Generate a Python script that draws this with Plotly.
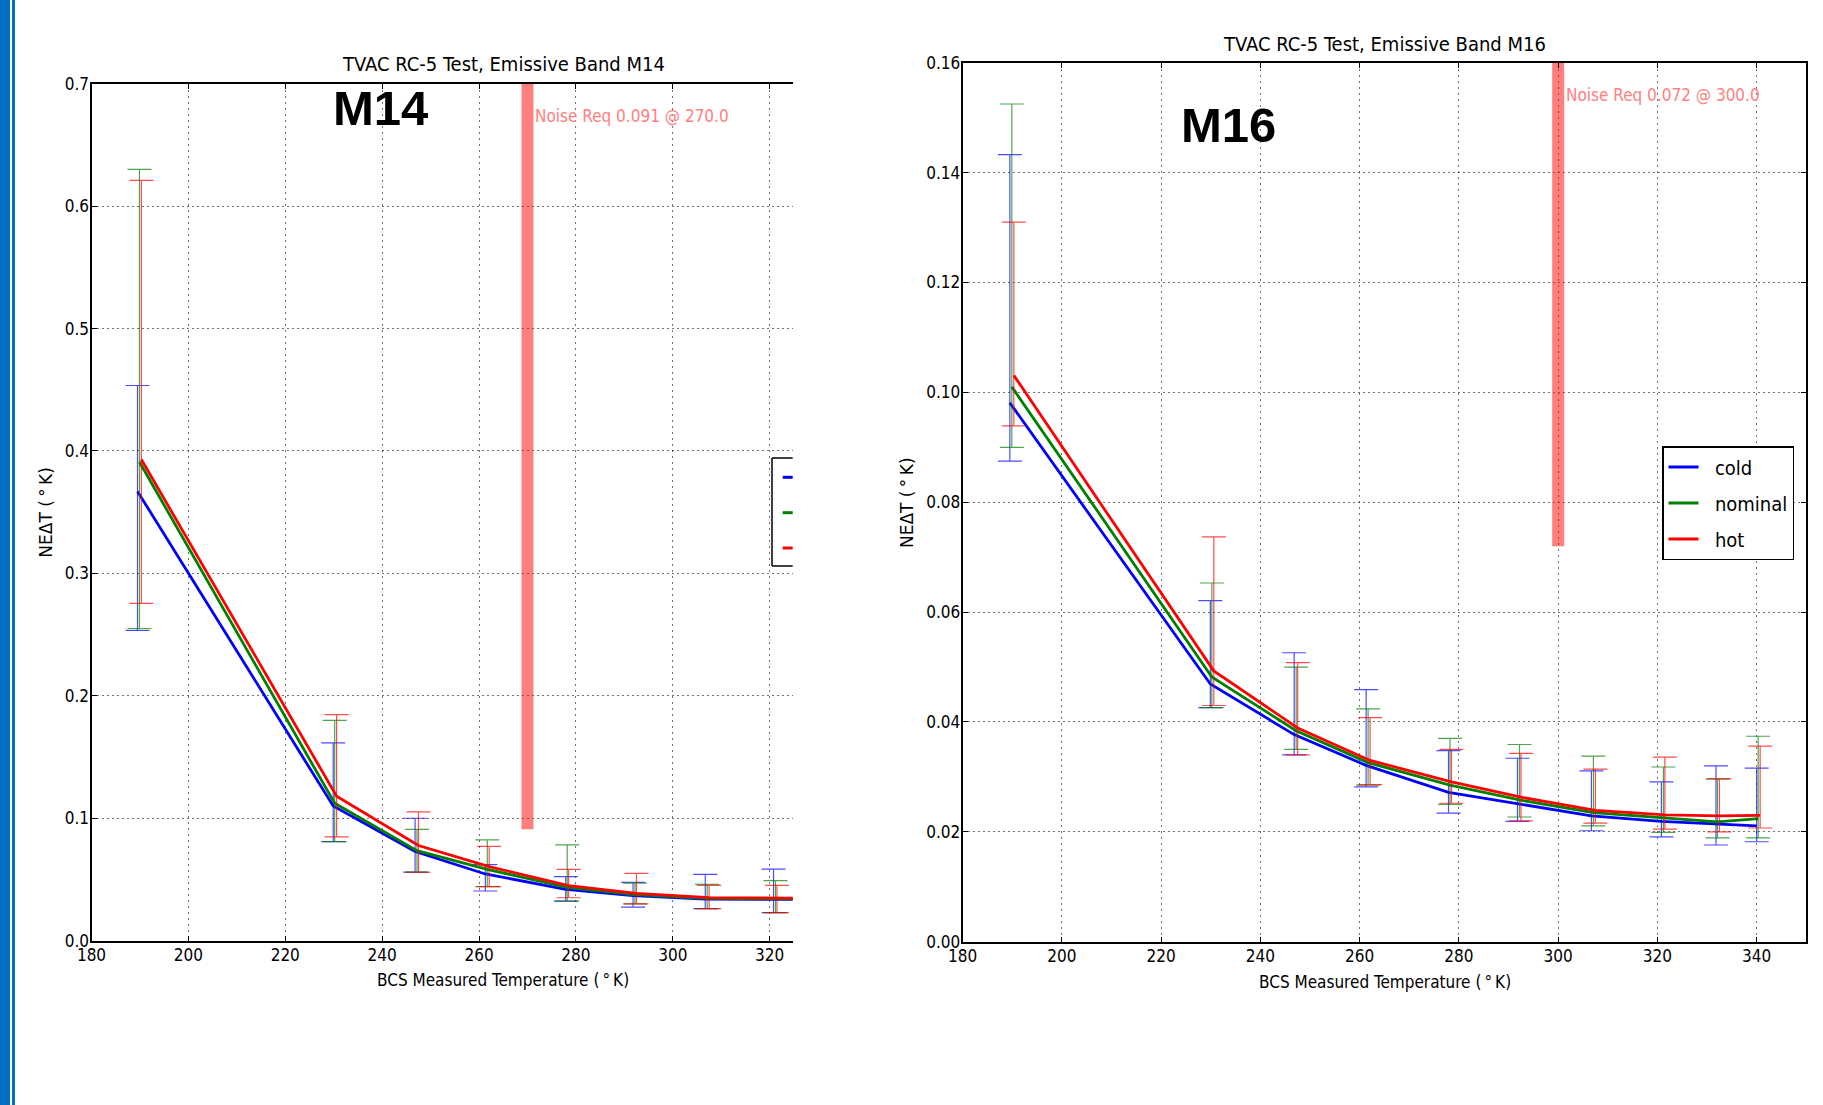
import plotly.graph_objects as go

# ---------------- data ----------------
series_names = ["cold", "nominal", "hot"]

temp_cold    = [189.5, 229.9, 246.8, 261.3, 277.9, 291.8, 306.7, 320.8, 331.8, 340.0]
temp_nominal = [189.9, 230.2, 247.2, 261.7, 278.2, 292.2, 307.1, 321.2, 332.1, 340.3]
temp_hot     = [190.3, 230.6, 247.5, 262.1, 278.5, 292.5, 307.5, 321.5, 332.5, 340.7]

# Band M14 : NEdT and the upper / lower ends of the error bars
m14_cold_val = [0.367, 0.110, 0.0728, 0.0545, 0.0420, 0.0368, 0.0340, 0.0340, 0.0335, 0.0335]
m14_cold_hi  = [0.4535, 0.1616, 0.1000, 0.0621, 0.0523, 0.0477, 0.0542, 0.0585, 0.0480, 0.0480]
m14_cold_lo  = [0.2535, 0.0810, 0.0560, 0.0406, 0.0324, 0.0275, 0.0262, 0.0229, 0.0240, 0.0240]

m14_nom_val  = [0.391, 0.1123, 0.0736, 0.0583, 0.0436, 0.0376, 0.0346, 0.0340, 0.0337, 0.0337]
m14_nom_hi   = [0.630, 0.1800, 0.0910, 0.0823, 0.0782, 0.0470, 0.0460, 0.0490, 0.0470, 0.0470]
m14_nom_lo   = [0.255, 0.0810, 0.0560, 0.0441, 0.0324, 0.0300, 0.0262, 0.0229, 0.0240, 0.0240]

m14_hot_val  = [0.393, 0.1180, 0.0777, 0.0605, 0.0450, 0.0387, 0.0352, 0.0346, 0.0344, 0.0344]
m14_hot_hi   = [0.621, 0.1846, 0.1052, 0.0771, 0.0583, 0.0550, 0.0452, 0.0452, 0.0450, 0.0450]
m14_hot_lo   = [0.2756, 0.0848, 0.0559, 0.0441, 0.0351, 0.0300, 0.0262, 0.0229, 0.0240, 0.0240]

# Band M16
m16_cold_val = [0.0981, 0.0469, 0.0377, 0.0321, 0.0272, 0.0251, 0.0229, 0.0219, 0.0214, 0.0211]
m16_cold_hi  = [0.1433, 0.0621, 0.0526, 0.0459, 0.0348, 0.0334, 0.0311, 0.0291, 0.0320, 0.0316]
m16_cold_lo  = [0.0875, 0.0426, 0.0340, 0.0282, 0.0234, 0.0219, 0.0202, 0.0191, 0.0176, 0.0182]

m16_nom_val  = [0.1010, 0.0482, 0.0384, 0.0326, 0.0285, 0.0258, 0.0235, 0.0226, 0.0218, 0.0224]
m16_nom_hi   = [0.1525, 0.0653, 0.0500, 0.0424, 0.0370, 0.0359, 0.0338, 0.0318, 0.0296, 0.0374]
m16_nom_lo   = [0.0900, 0.0426, 0.0350, 0.0285, 0.0250, 0.0227, 0.0211, 0.0199, 0.0189, 0.0189]

m16_hot_val  = [0.1031, 0.0493, 0.0389, 0.0330, 0.0291, 0.0263, 0.0239, 0.0231, 0.0229, 0.0230]
m16_hot_hi   = [0.1310, 0.0737, 0.0508, 0.0408, 0.0350, 0.0343, 0.0314, 0.0336, 0.0297, 0.0356]
m16_hot_lo   = [0.0939, 0.0430, 0.0340, 0.0286, 0.0252, 0.0220, 0.0216, 0.0205, 0.0200, 0.0207]

# Noise requirements
m14_req, m14_req_temp = 0.091, 270.0
m16_req, m16_req_temp = 0.072, 300.0

x_ticks = [180, 200, 220, 240, 260, 280, 300, 320, 340]
m14_y_ticks = [0.0, 0.1, 0.2, 0.3, 0.4, 0.5, 0.6, 0.7]
m16_y_ticks = [0.00, 0.02, 0.04, 0.06, 0.08, 0.10, 0.12, 0.14, 0.16]

# ---------------- styling / layout constants ----------------
PAGE_W, PAGE_H = 1823, 1105
OFF = 8                      # default body margin of the page holding the figure
W, H = PAGE_W - 2 * OFF, PAGE_H - 2 * OFF
COLORS = ["#0000FF", "#008000", "#FF0000"]
ERR_COLORS = ["rgba(0,0,255,0.7)", "rgba(0,128,0,0.7)", "rgba(255,0,0,0.7)"]
REQ_COLOR = "rgba(255,0,0,0.5)"
REQ_TEXT_COLOR = "#FF8080"
SLIDE_BLUE = "#0070C0"
COND = "DejaVu Sans Condensed, Liberation Sans Narrow, DejaVu Sans, sans-serif"
PLAIN = "DejaVu Sans, sans-serif"
BIGB = "Liberation Sans Narrow, Liberation Sans, Arial, sans-serif"

# plot-area pixel boxes in page pixels (left panel is cropped on its right side)
L1, R1, T1, B1 = 91.5, 792.7, 83.7, 940.7
L2, R2, T2, B2 = 962.7, 1806.3, 62.8, 941.7
X_MIN, X_MAX = 180, 350
X1_CUT = X_MIN + (R1 - L1) / ((915.0 - L1) / (X_MAX - X_MIN))
M14_YMAX, M16_YMAX = 0.7, 0.16


def px(x):
    return (x - OFF) / W


def py(y):
    return 1 - (y - OFF) / H


temps = [temp_cold, temp_nominal, temp_hot]
m14 = [(m14_cold_val, m14_cold_hi, m14_cold_lo),
       (m14_nom_val, m14_nom_hi, m14_nom_lo),
       (m14_hot_val, m14_hot_hi, m14_hot_lo)]
m16 = [(m16_cold_val, m16_cold_hi, m16_cold_lo),
       (m16_nom_val, m16_nom_hi, m16_nom_lo),
       (m16_hot_val, m16_hot_hi, m16_hot_lo)]

fig = go.Figure()

# noise requirement bars
fig.add_trace(go.Scatter(x=[m14_req_temp, m14_req_temp], y=[m14_req, M14_YMAX], mode="lines",
                         line=dict(color=REQ_COLOR, width=12), xaxis="x", yaxis="y",
                         showlegend=False, hoverinfo="skip"))
fig.add_trace(go.Scatter(x=[m16_req_temp, m16_req_temp], y=[m16_req, M16_YMAX], mode="lines",
                         line=dict(color=REQ_COLOR, width=12), xaxis="x2", yaxis="y2",
                         showlegend=False, hoverinfo="skip"))

for band, (xa, ya, show) in zip([m14, m16], [("x", "y", False), ("x2", "y2", True)]):
    for i, (vals, hi, lo) in enumerate(band):
        fig.add_trace(go.Scatter(
            x=temps[i], y=vals, mode="lines", name="\u00a0\u00a0" + series_names[i],
            legendgroup=series_names[i], showlegend=show,
            line=dict(color=COLORS[i], width=2.8),
            error_y=dict(type="data", symmetric=False,
                         array=[h - v for h, v in zip(hi, vals)],
                         arrayminus=[v - l for v, l in zip(vals, lo)],
                         color=ERR_COLORS[i], thickness=1.2, width=12),
            xaxis=xa, yaxis=ya))

axis_common = dict(showline=True, linecolor="black", linewidth=2, ticks="inside", ticklen=5,
                   tickcolor="black", tickwidth=1, showgrid=True, gridcolor="rgba(0,0,0,0.55)",
                   gridwidth=1, zeroline=False, automargin=False,
                   tickfont=dict(family=COND, size=17, color="black"))

fig.update_layout(
    template="none",
    width=W, height=H, margin=dict(l=0, r=0, t=0, b=0, pad=0, autoexpand=False),
    paper_bgcolor="white", plot_bgcolor="white",
    xaxis=dict(axis_common, domain=[px(L1), px(R1)], range=[X_MIN, X1_CUT], anchor="y",
               tickvals=x_ticks, mirror="ticks", griddash="2px,4px", ticklabelstandoff=-2),
    yaxis=dict(axis_common, domain=[py(B1), py(T1)], range=[0, M14_YMAX], anchor="x",
               tickvals=m14_y_ticks, tickformat=".1f", mirror=False, griddash="2px,3px",
               ticklabelstandoff=-3),
    xaxis2=dict(axis_common, domain=[px(L2), px(R2)], range=[X_MIN, X_MAX], anchor="y2",
                tickvals=x_ticks, mirror="ticks", griddash="2px,4px", ticklabelstandoff=-2),
    yaxis2=dict(axis_common, domain=[py(B2), py(T2)], range=[0, M16_YMAX], anchor="x2",
                tickvals=m16_y_ticks, tickformat=".2f", mirror="ticks", griddash="2px,3px",
                ticklabelstandoff=-3),
    legend=dict(x=px(1662), y=py(446), xanchor="left", yanchor="top",
                bordercolor="black", borderwidth=1.5, bgcolor="white",
                font=dict(family=COND, size=20, color="black"),
                traceorder="grouped", tracegroupgap=7),
    showlegend=True,
)

ann = []
# titles
ann.append(dict(text="TVAC RC-5 Test, Emissive Band M14", xref="x", yref="paper",
                x=(X_MIN + X_MAX) / 2, y=py(64.5), showarrow=False, yanchor="middle",
                font=dict(family=COND, size=20, color="black")))
ann.append(dict(text="TVAC RC-5 Test, Emissive Band M16", xref="x2", yref="paper",
                x=(X_MIN + X_MAX) / 2, y=py(43.7), showarrow=False, yanchor="middle",
                font=dict(family=COND, size=20, color="black")))
# axis titles
for xr, ycen in [("x", 980.0), ("x2", 982.4)]:
    ann.append(dict(text="BCS Measured Temperature (\u2009°\u2009K)", xref=xr, yref="paper",
                    x=(X_MIN + X_MAX) / 2, y=py(ycen), showarrow=False, yanchor="middle",
                    font=dict(family=COND, size=17, color="black")))
for xpx, ycen in [(46.5, (T1 + B1) / 2), (906.8, (T2 + B2) / 2)]:
    ann.append(dict(text="NEΔT (\u2009°\u2009K)", xref="paper", yref="paper",
                    x=px(xpx), y=py(ycen), showarrow=False, textangle=-90,
                    xanchor="center", yanchor="middle",
                    font=dict(family=PLAIN, size=17, color="black")))
# band labels
ann.append(dict(text="<b>M14</b>", xref="x", yref="y", x=229.5, y=0.680, xanchor="left",
                yanchor="middle", showarrow=False, font=dict(family=BIGB, size=49, color="black")))
ann.append(dict(text="<b>M16</b>", xref="x2", yref="y2", x=223.5, y=0.1486, xanchor="left",
                yanchor="middle", showarrow=False, font=dict(family=BIGB, size=49, color="black")))
# requirement texts
ann.append(dict(text=f"Noise Req {m14_req:.3f} @ {m14_req_temp:.1f}", xref="x", yref="y",
                x=m14_req_temp + 1.2, y=0.6735, xanchor="left", yanchor="middle", showarrow=False,
                font=dict(family=COND, size=17, color=REQ_TEXT_COLOR)))
ann.append(dict(text=f"Noise Req {m16_req:.3f} @ {m16_req_temp:.1f}", xref="x2", yref="y2",
                x=m16_req_temp + 1.2, y=0.1541, xanchor="left", yanchor="middle", showarrow=False,
                font=dict(family=COND, size=17, color=REQ_TEXT_COLOR)))
fig.update_layout(annotations=ann)

shapes = []
# blue slide border on the far left of the screenshot (the part inside the figure)
shapes.append(dict(type="rect", xref="paper", yref="paper", x0=px(0), x1=px(10), y0=py(PAGE_H), y1=py(0),
                   fillcolor=SLIDE_BLUE, line=dict(width=0), layer="above"))
shapes.append(dict(type="rect", xref="paper", yref="paper", x0=px(12), x1=px(15), y0=py(PAGE_H), y1=py(0),
                   fillcolor=SLIDE_BLUE, line=dict(width=0), layer="above"))
# cropped legend of the left panel (only its left part is visible)
LG_L, LG_T, LG_B = 772.0, 458.0, 566.0
frame = dict(color="black", width=1.5)
shapes.append(dict(type="line", xref="paper", yref="paper", x0=px(LG_L), x1=px(R1),
                   y0=py(LG_T), y1=py(LG_T), line=frame))
shapes.append(dict(type="line", xref="paper", yref="paper", x0=px(LG_L), x1=px(R1),
                   y0=py(LG_B), y1=py(LG_B), line=frame))
shapes.append(dict(type="line", xref="paper", yref="paper", x0=px(LG_L), x1=px(LG_L),
                   y0=py(LG_T), y1=py(LG_B), line=frame))
for c, yy in zip(COLORS, [477.3, 512.7, 548.0]):
    shapes.append(dict(type="line", xref="paper", yref="paper", x0=px(782.7), x1=px(R1),
                       y0=py(yy), y1=py(yy), line=dict(color=c, width=3)))
fig.update_layout(shapes=shapes)

# paint the slide border also in the page margin around the figure
PAGE_BG = (
    "document.body.style.background='linear-gradient(to right,"
    + SLIDE_BLUE + " 0px," + SLIDE_BLUE + " 10px,#ffffff 10px,#ffffff 12px,"
    + SLIDE_BLUE + " 12px," + SLIDE_BLUE + " 15px,#ffffff 15px)';"
    "document.body.style.minHeight='" + str(PAGE_H - 2 * OFF) + "px';"
)

fig.write_html("out.html", config=dict(displayModeBar=False), post_script=PAGE_BG)
